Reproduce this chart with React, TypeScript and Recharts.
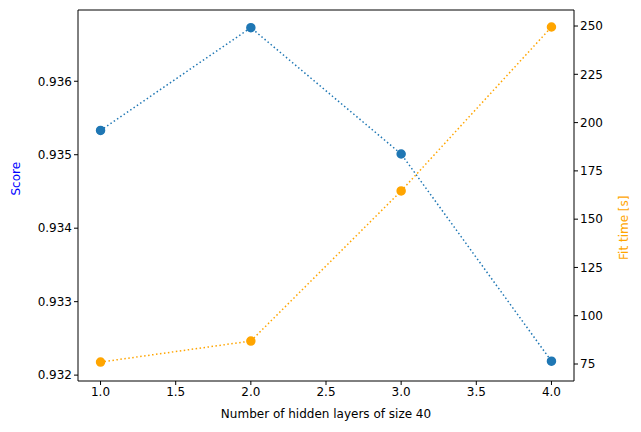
import { LineChart, Line, XAxis, YAxis, ReferenceLine } from 'recharts';

const layers = [1, 2, 3, 4];
const scores = [0.93533, 0.93673, 0.93501, 0.93219];
const fitTimes = [76, 86.9, 164.6, 249.5];
const xTicks = [1.0, 1.5, 2.0, 2.5, 3.0, 3.5, 4.0];
const scoreTicks = [0.932, 0.933, 0.934, 0.935, 0.936];
const timeTicks = [75, 100, 125, 150, 175, 200, 225, 250];

const data = layers.map((l, i) => ({ layers: l, score: scores[i], fit: fitTimes[i] }));

const font = { fontFamily: 'DejaVu Sans', fontSize: 12, fill: '#000' };
const scoreTop = 0.93697;

export default function App() {
  return (
    <div style={{ position: 'absolute', left: 0, top: 0, background: '#fff' }}>
      <LineChart width={641} height={432} data={data} margin={{ top: 10, right: 0, bottom: 0, left: 0 }}>
        <XAxis
          dataKey="layers"
          type="number"
          domain={[0.85, 4.15]}
          ticks={xTicks}
          tickFormatter={(v: number) => v.toFixed(1)}
          height={51}
          stroke="#000"
          tick={font}
          tickSize={4}
          label={{ value: 'Number of hidden layers of size 40', position: 'insideBottom', offset: 14, style: font }}
        />
        <YAxis
          yAxisId="left"
          domain={[0.93192, scoreTop]}
          ticks={scoreTicks}
          tickFormatter={(v: number) => v.toFixed(3)}
          width={78}
          stroke="#000"
          tick={font}
          tickSize={4}
          label={{ value: 'Score', angle: -90, position: 'insideLeft', offset: 16, style: { ...font, fill: 'blue' } }}
        />
        <YAxis
          yAxisId="right"
          orientation="right"
          domain={[66.2, 258.3]}
          ticks={timeTicks}
          width={67}
          stroke="#000"
          tick={font}
          tickSize={4}
          label={{ value: 'Fit time [s]', angle: -90, position: 'insideRight', offset: 17, style: { ...font, fill: 'orange' } }}
        />
        <ReferenceLine yAxisId="left" y={scoreTop} stroke="#000" />
        <Line yAxisId="left" dataKey="score" stroke="#1f77b4" strokeWidth={1.5} strokeDasharray="1.5 2.5" dot={{ r: 4, fill: '#1f77b4', stroke: '#1f77b4', strokeDasharray: '0' }} isAnimationActive={false} />
        <Line yAxisId="right" dataKey="fit" stroke="orange" strokeWidth={1.5} strokeDasharray="1.5 2.5" dot={{ r: 4, fill: 'orange', stroke: 'orange', strokeDasharray: '0' }} isAnimationActive={false} />
      </LineChart>
    </div>
  );
}
